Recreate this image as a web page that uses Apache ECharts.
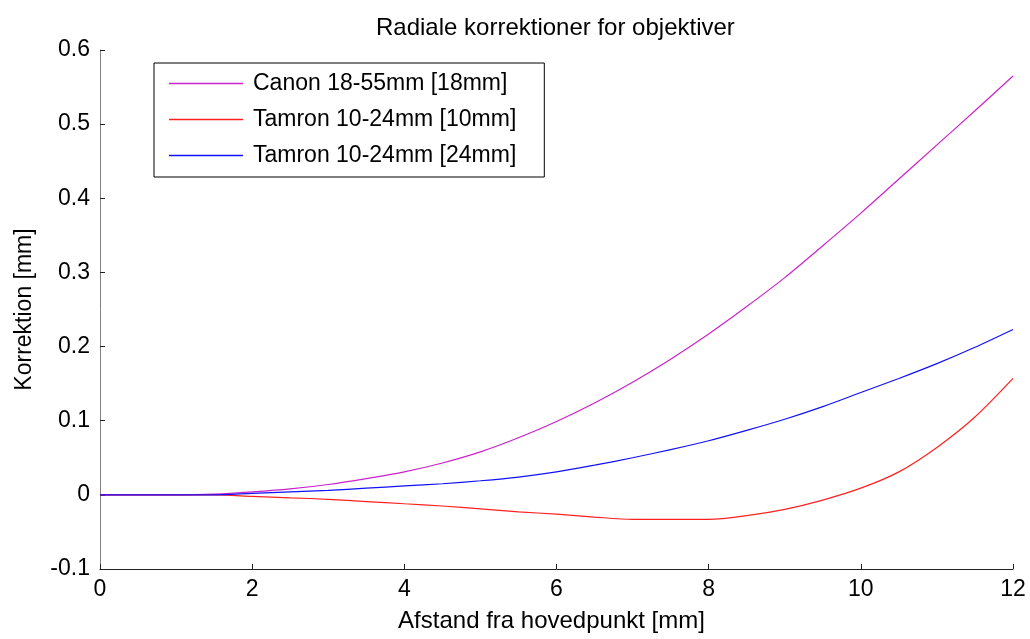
<!DOCTYPE html>
<html>
<head>
<meta charset="utf-8">
<script src="https://cdn.jsdelivr.net/npm/echarts@6/dist/echarts.min.js"></script>
<style>
  html, body { margin: 0; padding: 0; background: #fff; }
  #chart { width: 1030px; height: 639px; }
</style>
</head>
<body>
<div id="chart"></div>
<script>
// afstand fra hovedpunkt [mm]
var afstand = [0, 0.5, 1, 1.5, 2, 2.5, 3, 3.5, 4, 4.5, 5, 5.5, 6,
               6.5, 7, 7.5, 8, 8.5, 9, 9.5, 10, 10.5, 11, 11.5, 12];

// korrektion [mm]
var canon18 = [0, 0, 0, 0.001, 0.004, 0.008, 0.014, 0.022, 0.031, 0.043, 0.058, 0.077, 0.099,
               0.124, 0.152, 0.183, 0.217, 0.254, 0.293, 0.336, 0.380, 0.426, 0.472, 0.518, 0.565];
var tamron10 = [0, 0, 0, 0, -0.002, -0.004, -0.006, -0.009, -0.012, -0.015, -0.019, -0.023, -0.026,
                -0.030, -0.033, -0.033, -0.033, -0.028, -0.0195, -0.007, 0.009, 0.031, 0.064, 0.105, 0.157];
var tamron24 = [0, 0, 0, 0, 0.002, 0.004, 0.006, 0.009, 0.012, 0.015, 0.019, 0.024, 0.031,
                0.040, 0.050, 0.061, 0.073, 0.087, 0.102, 0.119, 0.138, 0.157, 0.177, 0.199, 0.223];

var navne = ['Canon 18-55mm [18mm]', 'Tamron 10-24mm [10mm]', 'Tamron 10-24mm [24mm]'];
var farver = ['#cc22cc', '#ff2020', '#1010ff'];

function par(ys) {
    var out = [];
    for (var i = 0; i < afstand.length; i++) {
        out.push([afstand[i], ys[i]]);
    }
    return out;
}

var font = 'Liberation Sans, Arial, sans-serif';
var myChart = echarts.init(document.getElementById('chart'));

var option = {
    backgroundColor: '#fff',
    animation: false,
    title: {
        text: 'Radiale korrektioner for objektiver',
        left: 376,
        top: 16,
        padding: 0,
        textStyle: { fontFamily: font, fontSize: 24, fontWeight: 'normal', color: '#000' }
    },
    grid: { left: 100, right: 17, top: 50, bottom: 70 },
    legend: {
        orient: 'vertical',
        left: 154,
        top: 63,
        padding: [9, 28, 10, 15],
        icon: 'rect',
        itemWidth: 74,
        itemHeight: 1.6,
        itemGap: 13,
        borderColor: '#000',
        borderWidth: 1,
        borderRadius: 0,
        backgroundColor: '#fff',
        data: navne,
        textStyle: { fontFamily: font, fontSize: 23, color: '#000', padding: [0, 0, 0, 5] }
    },
    xAxis: {
        type: 'value',
        min: 0,
        max: 12,
        interval: 2,
        name: 'Afstand fra hovedpunkt [mm]',
        nameLocation: 'middle',
        nameGap: 40,
        nameTextStyle: { fontFamily: font, fontSize: 24, color: '#000', padding: [0, 10, 0, 0] },
        axisLine: { onZero: false, lineStyle: { color: '#222', width: 1 } },
        axisTick: { inside: true, length: 5, lineStyle: { color: '#222' } },
        axisLabel: { fontFamily: font, fontSize: 23, color: '#000', margin: 9 },
        splitLine: { show: false }
    },
    yAxis: {
        type: 'value',
        min: -0.1,
        max: 0.6,
        interval: 0.1,
        name: 'Korrektion [mm]',
        nameLocation: 'middle',
        nameGap: 64,
        nameTextStyle: { fontFamily: font, fontSize: 23, color: '#000' },
        axisLine: { show: true, lineStyle: { color: '#808080', width: 1 } },
        axisTick: { show: true, inside: true, length: 5, lineStyle: { color: '#222' } },
        axisLabel: { fontFamily: font, fontSize: 23, color: '#000', margin: 10 },
        splitLine: { show: false }
    },
    series: []
};

var serier = [canon18, tamron10, tamron24];
for (var k = 0; k < serier.length; k++) {
    option.series.push({
        name: navne[k],
        type: 'line',
        data: par(serier[k]),
        smooth: 0.3,
        symbol: 'none',
        showSymbol: false,
        lineStyle: { color: farver[k], width: 1.2 },
        itemStyle: { color: farver[k] }
    });
}

myChart.setOption(option);
</script>
</body>
</html>
